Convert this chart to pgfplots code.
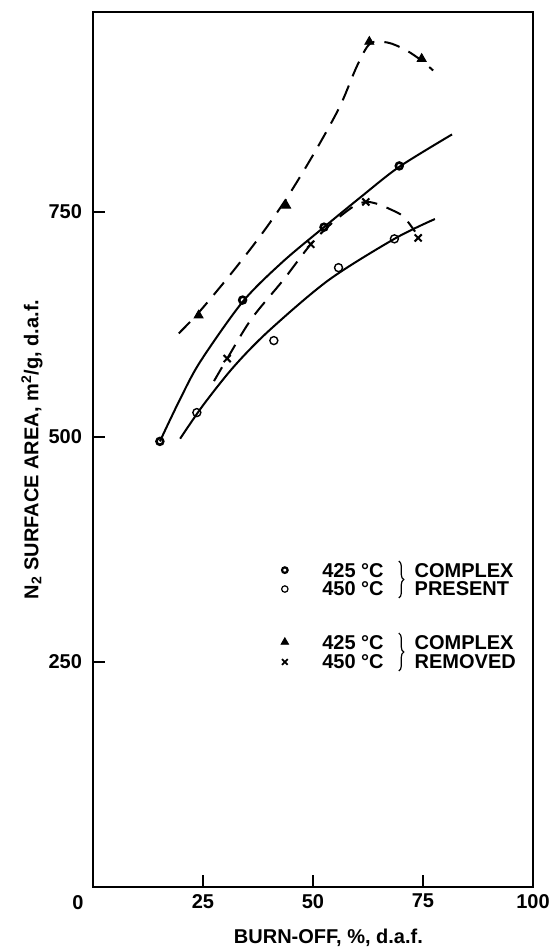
\documentclass[border=0pt]{standalone}
\usepackage{fontspec}
\setmainfont{Liberation Sans}
\usepackage{pgfplots}
\pgfplotsset{compat=1.18}
\usetikzlibrary{decorations.pathreplacing}
\newcommand\lf{\fontsize{10}{12}\selectfont\bfseries}
\begin{document}
\begin{tikzpicture}
\begin{axis}[
  scale only axis, width=220pt, height=437.5pt,
  xmin=0, xmax=100, ymin=0, ymax=972,
  xtick={25,50,75,100}, ytick={250,500,750},
  tick align=inside, xtick pos=bottom, ytick pos=left,
  major tick length=6pt,
  tick style={line width=0.8pt, black},
  axis line style={line width=1pt},
  /pgf/number format/assume math mode=true,
  tick label style={font=\lf},
  y tick label style={xshift=-2pt},
  xlabel={BURN-OFF, \%, d.a.f.},
  ylabel={N\textsubscript{2} SURFACE AREA, m\textsuperscript{2}/g, d.a.f.},
  label style={font=\lf},
  xlabel style={at={(axis description cs:0.535,-0.0583)}, anchor=center},
  ylabel style={at={(axis description cs:-0.1386,0.5)}, anchor=center},
  clip=false,
]
% curves
\addplot[smooth, line width=1pt] coordinates {(15.2,495) (19.6,540) (24.3,583) (34,650) (43,694) (52.5,733) (61,767) (69.6,800) (81.6,836)};
\addplot[smooth, line width=1pt] coordinates {(19.8,498) (25,535) (32,578) (40,618) (53.5,674) (68.5,720) (77.7,742)};
\addplot[smooth, line width=1pt, dash pattern=on 8pt off 5pt] coordinates {(19.5,615) (24,638) (31,679) (38,723) (44,765) (50,813) (56,866) (60,912) (63,937) (67,938) (71,930) (74.7,918) (77.3,907)};
\addplot[smooth, line width=1pt, dash pattern=on 8pt off 5pt] coordinates {(27.5,562) (30.5,587) (36,631) (43.2,674) (49.5,714) (54.2,737) (59.2,756) (62,761) (64.5,759) (67.5,753) (70.5,745) (73.2,728)};
% markers
\addplot[only marks, mark=o, mark size=1.7pt, mark options={line width=1.3pt}] coordinates {(15.2,495) (34.0,652) (52.5,733) (69.6,801)};
\addplot[only marks, mark=o, mark size=2pt, mark options={line width=0.7pt, fill=white}] coordinates {(23.6,527) (41.1,607) (55.8,688) (68.5,720)};
\addplot[only marks, mark=triangle*, mark size=2.6pt] coordinates {(24,635) (43.9,757) (62.8,939) (74.7,920)};
\addplot[only marks, mark=x, mark size=2.5pt, mark options={line width=1pt}] coordinates {(30.5,587) (49.5,714) (62.0,761) (73.9,721)};
% legend markers
\addplot[only marks, mark=o, mark size=1.4pt, mark options={line width=1.1pt}] coordinates {(43.6,352)};
\addplot[only marks, mark=o, mark size=1.6pt, mark options={line width=0.6pt}] coordinates {(43.6,331)};
\addplot[only marks, mark=triangle*, mark size=2.2pt] coordinates {(43.6,272)};
\addplot[only marks, mark=x, mark size=2pt, mark options={line width=0.9pt}] coordinates {(43.6,250)};
% legend text
\node[anchor=west, font=\lf] at (axis cs:50.5,352) {425 °C};
\node[anchor=west, font=\lf] at (axis cs:50.5,331) {450 °C};
\node[anchor=west, font=\lf] at (axis cs:50.5,272) {425 °C};
\node[anchor=west, font=\lf] at (axis cs:50.5,250) {450 °C};
\node[anchor=west, font=\lf] at (axis cs:71.5,352) {COMPLEX};
\node[anchor=west, font=\lf] at (axis cs:71.5,331) {PRESENT};
\node[anchor=west, font=\lf] at (axis cs:71.5,272) {COMPLEX};
\node[anchor=west, font=\lf] at (axis cs:71.5,250) {REMOVED};
\draw[decorate, decoration={brace, amplitude=2.5pt}, line width=0.6pt] (axis cs:69.5,362) -- (axis cs:69.5,321);
\draw[decorate, decoration={brace, amplitude=2.5pt}, line width=0.6pt] (axis cs:69.5,282) -- (axis cs:69.5,240);
\node[font=\lf] at (axis cs:0,0) [xshift=-7.5pt, yshift=-8pt] {0};
\end{axis}
\pgfresetboundingbox
\path (current axis.south west) ++(-46.5pt,-31pt) rectangle ++(278pt,474.5pt);
\end{tikzpicture}
\end{document}
